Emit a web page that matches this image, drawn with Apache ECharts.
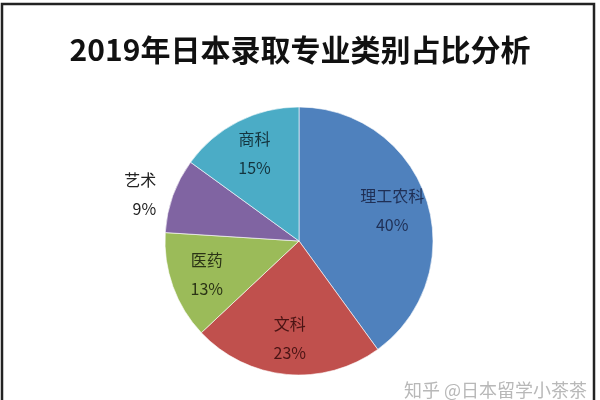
<!DOCTYPE html>
<html>
<head>
<meta charset="utf-8">
<script src="https://cdn.jsdelivr.net/npm/echarts@6/dist/echarts.min.js"></script>
<style>
  html, body { margin: 0; padding: 0; background: #fff; }
  #chart { width: 600px; height: 400px; }
</style>
</head>
<body>
<div id="chart"></div>
<script>
// 专业类别及占比
let categories = ['理工农科', '文科', '医药', '艺术', '商科']
let shares = [40, 23, 13, 9, 15]
let sliceColors = ['#4f81bd', '#c0504d', '#9bbb59', '#8064a2', '#4bacc6']
let labelColors = ['#1f2f55', '#4a1414', '#2b3416', '#222222', '#14343e']

let pieData = []
let labelData = []
for (let i = 0; i < categories.length; i++) {
  pieData.push({
    name: categories[i],
    value: shares[i],
    itemStyle: { color: sliceColors[i] }
  })
  let item = {
    name: categories[i],
    value: shares[i],
    label: { color: labelColors[i] }
  }
  // 艺术 标签放在饼图外
  if (categories[i] === '艺术') {
    item.label.position = 'outside'
    item.labelLine = { show: false, length: 4, length2: 8 }
  }
  labelData.push(item)
}

let option = {
  backgroundColor: '#fff',
  animation: false,
  title: {
    text: '2019年日本录取专业类别占比分析',
    left: 'center',
    top: 30,
    textStyle: {
      fontFamily: 'Noto Sans CJK SC',
      fontWeight: 'bold',
      fontSize: 30,
      color: '#111'
    }
  },
  graphic: [
    {
      type: 'rect',
      shape: { x: 2, y: 4, width: 592, height: 420 },
      style: { fill: 'none', stroke: '#222', lineWidth: 2.5 },
      silent: true
    },
    {
      type: 'text',
      left: 404,
      top: 381,
      style: {
        text: '知乎 @日本留学小茶茶',
        fontFamily: 'Noto Sans CJK SC',
        fontSize: 18,
        fill: '#b8b8b8'
      },
      silent: true
    }
  ],
  series: [
    {
      name: '专业类别',
      type: 'pie',
      center: [299, 241],
      radius: 134,
      startAngle: 90,
      clockwise: true,
      label: { show: false },
      labelLine: { show: false },
      itemStyle: { borderColor: 'rgba(255,255,255,0.6)', borderWidth: 1 },
      data: pieData
    },
    {
      // 只用于放置标签的透明环
      name: '标签',
      type: 'pie',
      center: [299, 241],
      radius: [56, 134],
      startAngle: 90,
      clockwise: true,
      silent: true,
      itemStyle: { color: 'rgba(0,0,0,0)' },
      label: {
        show: true,
        position: 'inside',
        formatter: '{b}\n{c}%',
        fontFamily: 'Noto Sans CJK SC',
        fontSize: 16,
        lineHeight: 29,
        align: 'center'
      },
      labelLine: { show: false },
      data: labelData
    }
  ]
}

let myChart = echarts.init(document.getElementById('chart'))
myChart.setOption(option)
</script>
</body>
</html>
